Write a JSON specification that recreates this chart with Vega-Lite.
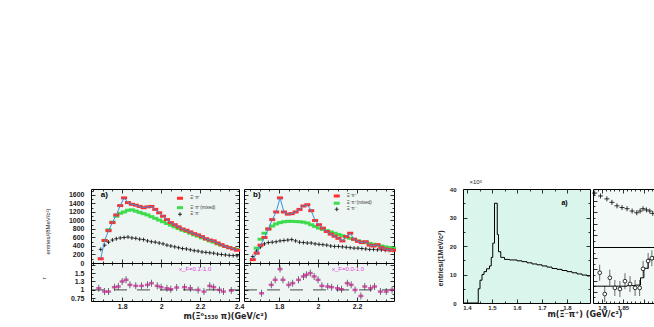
{
  "$schema": "https://vega.github.io/schema/vega-lite/v6.json",
  "autosize": {"type": "none"},
  "padding": {"left": 91, "top": 189, "right": 563, "bottom": 138},
  "background": "white",
  "config": {
    "font": "Liberation Sans",
    "view": {"stroke": "black", "strokeWidth": 1},
    "axis": {"grid": false, "domain": false, "tickColor": "black", "tickSize": -2, "tickWidth": 0.8, "labelPadding": 11, "labelFlush": false, "labelOverlap": false, "labelFont": "Liberation Sans", "labelFontSize": 7, "labelFontWeight": "bold", "labelColor": "#222", "titleFont": "Liberation Sans", "titleFontWeight": "normal", "titleColor": "#222", "titleFontSize": 6, "titleLimit": 300}
  },
  "datasets": {
    "aTop": [
      {"s":"r","x":1.69,"y":100},{"s":"r","x":1.71,"y":530},{"s":"r","x":1.73,"y":760},{"s":"r","x":1.75,"y":950},{"s":"r","x":1.77,"y":1130},{"s":"r","x":1.79,"y":1350},{"s":"r","x":1.81,"y":1530},{"s":"r","x":1.83,"y":1420},{"s":"r","x":1.85,"y":1380},{"s":"r","x":1.87,"y":1360},{"s":"r","x":1.89,"y":1330},{"s":"r","x":1.91,"y":1300},{"s":"r","x":1.93,"y":1320},{"s":"r","x":1.95,"y":1330},{"s":"r","x":1.97,"y":1260},{"s":"r","x":1.99,"y":1180},{"s":"r","x":2.01,"y":1100},{"s":"r","x":2.03,"y":1020},{"s":"r","x":2.05,"y":950},{"s":"r","x":2.07,"y":900},{"s":"r","x":2.09,"y":850},{"s":"r","x":2.11,"y":800},{"s":"r","x":2.13,"y":770},{"s":"r","x":2.15,"y":730},{"s":"r","x":2.17,"y":690},{"s":"r","x":2.19,"y":660},{"s":"r","x":2.21,"y":620},{"s":"r","x":2.23,"y":570},{"s":"r","x":2.25,"y":540},{"s":"r","x":2.27,"y":520},{"s":"r","x":2.29,"y":470},{"s":"r","x":2.31,"y":430},{"s":"r","x":2.33,"y":390},{"s":"r","x":2.35,"y":360},{"s":"r","x":2.37,"y":330},{"s":"r","x":2.39,"y":300},
      {"s":"g","x":1.71,"y":530},{"s":"g","x":1.73,"y":780},{"s":"g","x":1.75,"y":960},{"s":"g","x":1.77,"y":1100},{"s":"g","x":1.79,"y":1170},{"s":"g","x":1.81,"y":1200},{"s":"g","x":1.83,"y":1240},{"s":"g","x":1.85,"y":1250},{"s":"g","x":1.87,"y":1220},{"s":"g","x":1.89,"y":1190},{"s":"g","x":1.91,"y":1160},{"s":"g","x":1.93,"y":1130},{"s":"g","x":1.95,"y":1090},{"s":"g","x":1.97,"y":1050},{"s":"g","x":1.99,"y":1010},{"s":"g","x":2.01,"y":970},{"s":"g","x":2.03,"y":930},{"s":"g","x":2.05,"y":890},{"s":"g","x":2.07,"y":850},{"s":"g","x":2.09,"y":810},{"s":"g","x":2.11,"y":770},{"s":"g","x":2.13,"y":740},{"s":"g","x":2.15,"y":700},{"s":"g","x":2.17,"y":660},{"s":"g","x":2.19,"y":630},{"s":"g","x":2.21,"y":590},{"s":"g","x":2.23,"y":560},{"s":"g","x":2.25,"y":520},{"s":"g","x":2.27,"y":490},{"s":"g","x":2.29,"y":450},{"s":"g","x":2.31,"y":420},{"s":"g","x":2.33,"y":390},{"s":"g","x":2.35,"y":360},{"s":"g","x":2.37,"y":340},{"s":"g","x":2.39,"y":320},
      {"s":"k","x":1.69,"y":320},{"s":"k","x":1.71,"y":420},{"s":"k","x":1.73,"y":490},{"s":"k","x":1.75,"y":540},{"s":"k","x":1.77,"y":570},{"s":"k","x":1.79,"y":590},{"s":"k","x":1.81,"y":600},{"s":"k","x":1.83,"y":610},{"s":"k","x":1.85,"y":590},{"s":"k","x":1.87,"y":580},{"s":"k","x":1.89,"y":560},{"s":"k","x":1.91,"y":550},{"s":"k","x":1.93,"y":520},{"s":"k","x":1.95,"y":500},{"s":"k","x":1.97,"y":490},{"s":"k","x":1.99,"y":470},{"s":"k","x":2.01,"y":450},{"s":"k","x":2.03,"y":420},{"s":"k","x":2.05,"y":400},{"s":"k","x":2.07,"y":380},{"s":"k","x":2.09,"y":360},{"s":"k","x":2.11,"y":340},{"s":"k","x":2.13,"y":330},{"s":"k","x":2.15,"y":310},{"s":"k","x":2.17,"y":290},{"s":"k","x":2.19,"y":280},{"s":"k","x":2.21,"y":260},{"s":"k","x":2.23,"y":250},{"s":"k","x":2.25,"y":240},{"s":"k","x":2.27,"y":230},{"s":"k","x":2.29,"y":210},{"s":"k","x":2.31,"y":200},{"s":"k","x":2.33,"y":190},{"s":"k","x":2.35,"y":180},{"s":"k","x":2.37,"y":175},{"s":"k","x":2.39,"y":170}
    ],
    "aRat": [
      {"x":1.68,"y":1.05},{"x":1.71,"y":0.95},{"x":1.73,"y":0.95},{"x":1.76,"y":1.08},{"x":1.78,"y":1.1},{"x":1.8,"y":1.25},{"x":1.82,"y":1.3},{"x":1.84,"y":1.15},{"x":1.87,"y":1.12},{"x":1.9,"y":1.12},{"x":1.93,"y":1.15},{"x":1.95,"y":1.2},{"x":1.98,"y":1.12},{"x":2.0,"y":1.08},{"x":2.03,"y":1.05},{"x":2.05,"y":1.02},{"x":2.08,"y":1.07},{"x":2.12,"y":1.08},{"x":2.15,"y":1.05},{"x":2.19,"y":1.0},{"x":2.22,"y":0.95},{"x":2.25,"y":1.12},{"x":2.27,"y":1.08},{"x":2.3,"y":1.0},{"x":2.32,"y":0.95},{"x":2.36,"y":0.98}
    ],
    "bTop": [
      {"s":"r","x":1.665,"y":80},{"s":"r","x":1.685,"y":230},{"s":"r","x":1.705,"y":420},{"s":"r","x":1.725,"y":600},{"s":"r","x":1.745,"y":800},{"s":"r","x":1.765,"y":1020},{"s":"r","x":1.785,"y":1200},{"s":"r","x":1.805,"y":1530},{"s":"r","x":1.825,"y":1200},{"s":"r","x":1.845,"y":1150},{"s":"r","x":1.865,"y":1160},{"s":"r","x":1.885,"y":1200},{"s":"r","x":1.905,"y":1260},{"s":"r","x":1.925,"y":1340},{"s":"r","x":1.945,"y":1370},{"s":"r","x":1.965,"y":1230},{"s":"r","x":1.985,"y":1000},{"s":"r","x":2.005,"y":900},{"s":"r","x":2.025,"y":820},{"s":"r","x":2.045,"y":740},{"s":"r","x":2.065,"y":680},{"s":"r","x":2.085,"y":630},{"s":"r","x":2.105,"y":580},{"s":"r","x":2.125,"y":520},{"s":"r","x":2.145,"y":620},{"s":"r","x":2.165,"y":700},{"s":"r","x":2.185,"y":560},{"s":"r","x":2.205,"y":510},{"s":"r","x":2.225,"y":480},{"s":"r","x":2.245,"y":500},{"s":"r","x":2.265,"y":420},{"s":"r","x":2.285,"y":400},{"s":"r","x":2.305,"y":430},{"s":"r","x":2.325,"y":360},{"s":"r","x":2.345,"y":330},{"s":"r","x":2.365,"y":310},{"s":"r","x":2.385,"y":300},
      {"s":"g","x":1.685,"y":350},{"s":"g","x":1.705,"y":560},{"s":"g","x":1.725,"y":700},{"s":"g","x":1.745,"y":800},{"s":"g","x":1.765,"y":870},{"s":"g","x":1.785,"y":920},{"s":"g","x":1.805,"y":950},{"s":"g","x":1.825,"y":970},{"s":"g","x":1.845,"y":980},{"s":"g","x":1.865,"y":980},{"s":"g","x":1.885,"y":975},{"s":"g","x":1.905,"y":970},{"s":"g","x":1.925,"y":960},{"s":"g","x":1.945,"y":940},{"s":"g","x":1.965,"y":900},{"s":"g","x":1.985,"y":860},{"s":"g","x":2.005,"y":820},{"s":"g","x":2.025,"y":790},{"s":"g","x":2.045,"y":760},{"s":"g","x":2.065,"y":730},{"s":"g","x":2.085,"y":700},{"s":"g","x":2.105,"y":670},{"s":"g","x":2.125,"y":640},{"s":"g","x":2.145,"y":610},{"s":"g","x":2.165,"y":580},{"s":"g","x":2.185,"y":550},{"s":"g","x":2.205,"y":520},{"s":"g","x":2.225,"y":500},{"s":"g","x":2.245,"y":480},{"s":"g","x":2.265,"y":460},{"s":"g","x":2.285,"y":440},{"s":"g","x":2.305,"y":420},{"s":"g","x":2.325,"y":400},{"s":"g","x":2.345,"y":380},{"s":"g","x":2.365,"y":360},{"s":"g","x":2.385,"y":350},
      {"s":"k","x":1.665,"y":150},{"s":"k","x":1.685,"y":280},{"s":"k","x":1.705,"y":380},{"s":"k","x":1.725,"y":450},{"s":"k","x":1.745,"y":480},{"s":"k","x":1.765,"y":490},{"s":"k","x":1.785,"y":500},{"s":"k","x":1.805,"y":520},{"s":"k","x":1.825,"y":530},{"s":"k","x":1.845,"y":540},{"s":"k","x":1.865,"y":550},{"s":"k","x":1.885,"y":520},{"s":"k","x":1.905,"y":490},{"s":"k","x":1.925,"y":480},{"s":"k","x":1.945,"y":470},{"s":"k","x":1.965,"y":470},{"s":"k","x":1.985,"y":450},{"s":"k","x":2.005,"y":440},{"s":"k","x":2.025,"y":430},{"s":"k","x":2.045,"y":420},{"s":"k","x":2.065,"y":400},{"s":"k","x":2.085,"y":390},{"s":"k","x":2.105,"y":390},{"s":"k","x":2.125,"y":380},{"s":"k","x":2.145,"y":370},{"s":"k","x":2.165,"y":360},{"s":"k","x":2.185,"y":350},{"s":"k","x":2.205,"y":350},{"s":"k","x":2.225,"y":340},{"s":"k","x":2.245,"y":330},{"s":"k","x":2.265,"y":320},{"s":"k","x":2.285,"y":320},{"s":"k","x":2.305,"y":310},{"s":"k","x":2.325,"y":310},{"s":"k","x":2.345,"y":300},{"s":"k","x":2.365,"y":300},{"s":"k","x":2.385,"y":300}
    ],
    "bRat": [
      {"x":1.71,"y":0.9},{"x":1.76,"y":1.15},{"x":1.78,"y":1.3},{"x":1.805,"y":1.62},{"x":1.82,"y":1.3},{"x":1.85,"y":1.15},{"x":1.87,"y":1.2},{"x":1.9,"y":1.3},{"x":1.925,"y":1.4},{"x":1.94,"y":1.45},{"x":1.96,"y":1.5},{"x":1.98,"y":1.4},{"x":2.0,"y":1.3},{"x":2.02,"y":1.12},{"x":2.05,"y":1.1},{"x":2.07,"y":1.08},{"x":2.1,"y":1.05},{"x":2.12,"y":1.02},{"x":2.15,"y":1.2},{"x":2.17,"y":1.15},{"x":2.19,"y":1.0},{"x":2.22,"y":0.82},{"x":2.24,"y":1.1},{"x":2.27,"y":1.05},{"x":2.29,"y":1.1},{"x":2.32,"y":0.95},{"x":2.35,"y":0.95},{"x":2.38,"y":1.0}
    ],
    "legA": [
      {"s":"r","x":2.097,"tx":2.15,"y":1522,"t":"Ξ⁻π⁺"},
      {"s":"g","x":2.097,"tx":2.15,"y":1301,"t":"Ξ⁻π⁺(mixed)"},
      {"s":"k","x":2.097,"tx":2.15,"y":1146,"t":"Ξ⁻π⁻"}
    ],
    "legB": [
      {"s":"r","x":2.096,"tx":2.147,"y":1576,"t":"Ξ⁻π⁺"},
      {"s":"g","x":2.096,"tx":2.147,"y":1405,"t":"Ξ⁻π⁺(mixed)"},
      {"s":"k","x":2.096,"tx":2.147,"y":1264,"t":"Ξ⁻π⁻"}
    ],
    "c": [
      {"x":1.384,"y":0},{"x":1.445,"y":5},{"x":1.452,"y":8},{"x":1.46,"y":10},{"x":1.468,"y":11},{"x":1.478,"y":12},{"x":1.49,"y":13},{"x":1.497,"y":16},{"x":1.503,"y":21},{"x":1.51,"y":35},{"x":1.521,"y":24},{"x":1.526,"y":18},{"x":1.535,"y":16},{"x":1.55,"y":15.3},{"x":1.57,"y":15.1},{"x":1.6,"y":14.8},{"x":1.62,"y":14.5},{"x":1.64,"y":14.1},{"x":1.66,"y":13.7},{"x":1.68,"y":13.4},{"x":1.7,"y":13.0},{"x":1.72,"y":12.6},{"x":1.74,"y":12.1},{"x":1.76,"y":11.8},{"x":1.78,"y":11.4},{"x":1.8,"y":11.0},{"x":1.82,"y":10.6},{"x":1.84,"y":10.2},{"x":1.86,"y":9.8},{"x":1.88,"y":9.5},{"x":1.892,"y":9.5}
    ],
    "dTop": [
      {"x":1.783,"y":93},{"x":1.797,"y":88},{"x":1.812,"y":83},{"x":1.824,"y":77},{"x":1.836,"y":71},{"x":1.848,"y":68},{"x":1.86,"y":66},{"x":1.872,"y":62},{"x":1.883,"y":59},{"x":1.891,"y":62},{"x":1.898,"y":66},{"x":1.906,"y":64},{"x":1.914,"y":62},{"x":1.921,"y":58}
    ],
    "dBot": [
      {"x":1.795,"y":54},{"x":1.807,"y":16},{"x":1.819,"y":45},{"x":1.831,"y":27},{"x":1.843,"y":25},{"x":1.855,"y":39},{"x":1.867,"y":34},{"x":1.879,"y":27},{"x":1.89,"y":27},{"x":1.898,"y":61},{"x":1.91,"y":75},{"x":1.919,"y":80}
    ],
    "dStep": [
      {"x":1.779,"y":30},{"x":1.79,"y":30},{"x":1.8,"y":30},{"x":1.82,"y":30},{"x":1.84,"y":30},{"x":1.86,"y":31},{"x":1.88,"y":32},{"x":1.892,"y":45},{"x":1.9,"y":62},{"x":1.91,"y":78},{"x":1.924,"y":84}
    ]
  },
  "hconcat": [
    {
      "hconcat": [
        {
          "vconcat": [
            {
              "width": 148, "height": 74,
              "view": {"fill": "#eef6f3", "stroke": "black"},
              "resolve": {"axis": {"x": "independent", "y": "independent"}},
              "layer": [
                {
                  "encoding": {
                    "x": {"field": "x", "type": "quantitative", "scale": {"domain": [1.64, 2.4], "nice": false, "zero": false}, "axis": {"values": [1.65, 1.7, 1.75, 1.8, 1.85, 1.9, 1.95, 2.0, 2.05, 2.1, 2.15, 2.2, 2.25, 2.3, 2.35], "labels": false, "title": null, "tickSize": {"condition": {"test": "abs(datum.value*5 - round(datum.value*5)) < 0.001", "value": -4}, "value": -2}}},
                    "y": {"field": "y", "type": "quantitative", "scale": {"domain": [0, 1740], "nice": false}, "axis": {"values": [0, 100, 200, 300, 400, 500, 600, 700, 800, 900, 1000, 1100, 1200, 1300, 1400, 1500, 1600, 1700], "format": "d", "labelExpr": "datum.value % 200 == 0 ? datum.label : ''", "tickSize": {"condition": {"test": "datum.value % 200 == 0", "value": -4}, "value": -2}, "title": "entries/(8MeV/c²)", "titleX": -44, "titleY": 42, "titleAlign": "center", "titleBaseline": "middle", "titleAngle": -90}}
                  },
                  "layer": [
                    {"data": {"name": "aTop"}, "transform": [{"filter": "datum.s == 'g'"}], "mark": {"type": "tick", "orient": "horizontal", "color": "#3ddc4f", "size": 6, "thickness": 3, "opacity": 1}},
                    {"data": {"name": "aTop"}, "transform": [{"filter": "datum.s == 'k'"}], "mark": {"type": "point", "shape": "M-1,0L1,0M0,-1L0,1", "filled": false, "stroke": "black", "strokeWidth": 0.8, "size": 16, "opacity": 1}},
                    {"data": {"name": "aTop"}, "transform": [{"filter": "datum.s == 'r'"}], "mark": {"type": "tick", "orient": "horizontal", "color": "#ff2d2d", "size": 6, "thickness": 3, "opacity": 1}},
                    {"data": {"name": "aTop"}, "transform": [{"filter": "datum.s == 'r'"}], "mark": {"type": "line", "color": "#3a8fdc", "strokeWidth": 1}},
                    {"data": {"name": "legA"}, "transform": [{"filter": "datum.s == 'r'"}], "mark": {"type": "tick", "orient": "horizontal", "color": "#ff2d2d", "size": 6, "thickness": 3, "opacity": 1}},
                    {"data": {"name": "legA"}, "transform": [{"filter": "datum.s == 'g'"}], "mark": {"type": "tick", "orient": "horizontal", "color": "#3ddc4f", "size": 6, "thickness": 3, "opacity": 1}},
                    {"data": {"name": "legA"}, "transform": [{"filter": "datum.s == 'k'"}], "mark": {"type": "point", "shape": "M-1,0L1,0M0,-1L0,1", "filled": false, "stroke": "black", "strokeWidth": 0.8, "size": 16, "opacity": 1}},
                    {"data": {"name": "legA"}, "mark": {"type": "text", "fontSize": 4.5, "align": "left", "baseline": "middle", "color": "#333"}, "encoding": {"x": {"field": "tx", "type": "quantitative"}, "text": {"field": "t"}}},
                    {"data": {"values": [{"x": 1.709, "y": 1600, "t": "a)"}]}, "mark": {"type": "text", "fontSize": 8, "fontWeight": "bold", "align": "center", "baseline": "middle", "color": "black"}, "encoding": {"text": {"field": "t"}}}
                  ]
                },
                {
                  "data": {"name": "aTop"}, "mark": {"type": "point", "opacity": 0},
                  "encoding": {
                    "x": {"field": "x", "type": "quantitative", "axis": {"orient": "top", "values": [1.65, 1.7, 1.75, 1.8, 1.85, 1.9, 1.95, 2.0, 2.05, 2.1, 2.15, 2.2, 2.25, 2.3, 2.35], "labels": false, "title": null, "tickSize": {"condition": {"test": "abs(datum.value*5 - round(datum.value*5)) < 0.001", "value": -4}, "value": -2}}},
                    "y": {"field": "y", "type": "quantitative", "axis": {"orient": "right", "values": [100, 200, 300, 400, 500, 600, 700, 800, 900, 1000, 1100, 1200, 1300, 1400, 1500, 1600, 1700], "labels": false, "title": null, "tickSize": {"condition": {"test": "datum.value % 200 == 0", "value": -4}, "value": -2}}}
                  }
                }
              ]
            },
            {
              "width": 148, "height": 38,
              "view": {"fill": "#eef6f3", "stroke": "black"},
              "resolve": {"axis": {"x": "independent", "y": "independent"}},
              "layer": [
                {
                  "encoding": {
                    "x": {"field": "x", "type": "quantitative", "scale": {"domain": [1.64, 2.4], "nice": false, "zero": false}, "axis": {"values": [1.65, 1.7, 1.75, 1.8, 1.85, 1.9, 1.95, 2.0, 2.05, 2.1, 2.15, 2.2, 2.25, 2.3, 2.35, 2.4], "format": ".1~f", "labelExpr": "abs(datum.value*5 - round(datum.value*5)) < 0.001 ? datum.label : ''", "tickSize": {"condition": {"test": "abs(datum.value*5 - round(datum.value*5)) < 0.001", "value": -4}, "value": -2}, "labelPadding": 5, "title": "m(Ξ⁰₁₅₃₀ π)(GeV/c²)", "titleFont": "DejaVu Sans", "titleFontWeight": "bold", "titleFontSize": 8, "titleX": 92, "titleY": 15, "titleAlign": "left", "titleBaseline": "middle"}},
                    "y": {"field": "y", "type": "quantitative", "scale": {"domain": [0.67, 1.8], "nice": false, "zero": false}, "axis": {"values": [0.75, 0.875, 1, 1.125, 1.25, 1.375, 1.5, 1.625, 1.75], "format": "~g", "labelExpr": "abs(datum.value*4 - round(datum.value*4)) < 0.001 && datum.value < 1.7 ? datum.label : ''", "tickSize": {"condition": {"test": "abs(datum.value*4 - round(datum.value*4)) < 0.001", "value": -4}, "value": -2}, "title": "r", "titleX": -48, "titleY": 15, "titleAlign": "center", "titleBaseline": "middle", "titleAngle": -90}}
                  },
                  "layer": [
                    {"data": {"values": [{"x": 1.64, "x2": 2.4, "y": 1}]}, "mark": {"type": "rule", "color": "black", "strokeWidth": 0.7, "strokeDash": [13, 10]}, "encoding": {"x2": {"field": "x2"}}},
                    {"data": {"name": "aRat"}, "mark": {"type": "tick", "orient": "vertical", "color": "black", "size": 7, "thickness": 0.8}},
                    {"data": {"name": "aRat"}, "mark": {"type": "tick", "orient": "horizontal", "color": "#c21f8e", "size": 5, "thickness": 2.5}},
                    {"data": {"values": [{"x": 2.175, "y": 1.62, "t": "x_F=0.1-1.0"}]}, "mark": {"type": "text", "fontSize": 6, "align": "center", "baseline": "middle", "color": "#e03ce0"}, "encoding": {"text": {"field": "t"}}}
                  ]
                },
                {
                  "data": {"name": "aRat"}, "mark": {"type": "point", "opacity": 0},
                  "encoding": {
                    "x": {"field": "x", "type": "quantitative", "axis": {"orient": "top", "values": [1.65, 1.7, 1.75, 1.8, 1.85, 1.9, 1.95, 2.0, 2.05, 2.1, 2.15, 2.2, 2.25, 2.3, 2.35], "labels": false, "title": null, "tickSize": {"condition": {"test": "abs(datum.value*5 - round(datum.value*5)) < 0.001", "value": -4}, "value": -2}}},
                    "y": {"field": "y", "type": "quantitative", "axis": {"orient": "right", "values": [0.75, 0.875, 1, 1.125, 1.25, 1.375, 1.5, 1.625, 1.75], "labels": false, "title": null, "tickSize": {"condition": {"test": "abs(datum.value*4 - round(datum.value*4)) < 0.001", "value": -4}, "value": -2}}}
                  }
                }
              ]
            }
          ],
          "spacing": 0, "bounds": "flush"
        },
        {
          "vconcat": [
            {
              "width": 150, "height": 74,
              "view": {"fill": "#eef6f3", "stroke": "black"},
              "resolve": {"axis": {"x": "independent", "y": "independent"}},
              "layer": [
                {
                  "encoding": {
                    "x": {"field": "x", "type": "quantitative", "scale": {"domain": [1.62, 2.39], "nice": false, "zero": false}, "axis": {"values": [1.65, 1.7, 1.75, 1.8, 1.85, 1.9, 1.95, 2.0, 2.05, 2.1, 2.15, 2.2, 2.25, 2.3, 2.35], "labels": false, "title": null, "tickSize": {"condition": {"test": "abs(datum.value*5 - round(datum.value*5)) < 0.001", "value": -4}, "value": -2}}},
                    "y": {"field": "y", "type": "quantitative", "scale": {"domain": [0, 1740], "nice": false}, "axis": {"values": [100, 200, 300, 400, 500, 600, 700, 800, 900, 1000, 1100, 1200, 1300, 1400, 1500, 1600, 1700], "labels": false, "title": null, "tickSize": {"condition": {"test": "datum.value % 200 == 0", "value": -4}, "value": -2}}}
                  },
                  "layer": [
                    {"data": {"name": "bTop"}, "transform": [{"filter": "datum.s == 'g'"}], "mark": {"type": "tick", "orient": "horizontal", "color": "#3ddc4f", "size": 6, "thickness": 3, "opacity": 1}},
                    {"data": {"name": "bTop"}, "transform": [{"filter": "datum.s == 'k'"}], "mark": {"type": "point", "shape": "M-1,0L1,0M0,-1L0,1", "filled": false, "stroke": "black", "strokeWidth": 0.8, "size": 16, "opacity": 1}},
                    {"data": {"name": "bTop"}, "transform": [{"filter": "datum.s == 'r'"}], "mark": {"type": "tick", "orient": "horizontal", "color": "#ff2d2d", "size": 6, "thickness": 3, "opacity": 1}},
                    {"data": {"name": "bTop"}, "transform": [{"filter": "datum.s == 'r'"}], "mark": {"type": "line", "color": "#3a8fdc", "strokeWidth": 1}},
                    {"data": {"name": "legB"}, "transform": [{"filter": "datum.s == 'r'"}], "mark": {"type": "tick", "orient": "horizontal", "color": "#ff2d2d", "size": 6, "thickness": 3, "opacity": 1}},
                    {"data": {"name": "legB"}, "transform": [{"filter": "datum.s == 'g'"}], "mark": {"type": "tick", "orient": "horizontal", "color": "#3ddc4f", "size": 6, "thickness": 3, "opacity": 1}},
                    {"data": {"name": "legB"}, "transform": [{"filter": "datum.s == 'k'"}], "mark": {"type": "point", "shape": "M-1,0L1,0M0,-1L0,1", "filled": false, "stroke": "black", "strokeWidth": 0.8, "size": 16, "opacity": 1}},
                    {"data": {"name": "legB"}, "mark": {"type": "text", "fontSize": 4.5, "align": "left", "baseline": "middle", "color": "#333"}, "encoding": {"x": {"field": "tx", "type": "quantitative"}, "text": {"field": "t"}}},
                    {"data": {"values": [{"x": 1.686, "y": 1600, "t": "b)"}]}, "mark": {"type": "text", "fontSize": 8, "fontWeight": "bold", "align": "center", "baseline": "middle", "color": "black"}, "encoding": {"text": {"field": "t"}}}
                  ]
                },
                {
                  "data": {"name": "bTop"}, "mark": {"type": "point", "opacity": 0},
                  "encoding": {
                    "x": {"field": "x", "type": "quantitative", "axis": {"orient": "top", "values": [1.65, 1.7, 1.75, 1.8, 1.85, 1.9, 1.95, 2.0, 2.05, 2.1, 2.15, 2.2, 2.25, 2.3, 2.35], "labels": false, "title": null, "tickSize": {"condition": {"test": "abs(datum.value*5 - round(datum.value*5)) < 0.001", "value": -4}, "value": -2}}},
                    "y": {"field": "y", "type": "quantitative", "axis": {"orient": "right", "values": [100, 200, 300, 400, 500, 600, 700, 800, 900, 1000, 1100, 1200, 1300, 1400, 1500, 1600, 1700], "labels": false, "title": null, "tickSize": {"condition": {"test": "datum.value % 200 == 0", "value": -4}, "value": -2}}}
                  }
                }
              ]
            },
            {
              "width": 150, "height": 38,
              "view": {"fill": "#eef6f3", "stroke": "black"},
              "resolve": {"axis": {"x": "independent", "y": "independent"}},
              "layer": [
                {
                  "encoding": {
                    "x": {"field": "x", "type": "quantitative", "scale": {"domain": [1.62, 2.39], "nice": false, "zero": false}, "axis": {"values": [1.65, 1.7, 1.75, 1.8, 1.85, 1.9, 1.95, 2.0, 2.05, 2.1, 2.15, 2.2, 2.25, 2.3, 2.35], "format": ".1~f", "labelExpr": "abs(datum.value*5 - round(datum.value*5)) < 0.001 ? datum.label : ''", "tickSize": {"condition": {"test": "abs(datum.value*5 - round(datum.value*5)) < 0.001", "value": -4}, "value": -2}, "labelPadding": 5, "title": null}},
                    "y": {"field": "y", "type": "quantitative", "scale": {"domain": [0.67, 1.8], "nice": false, "zero": false}, "axis": {"values": [0.75, 0.875, 1, 1.125, 1.25, 1.375, 1.5, 1.625, 1.75], "labels": false, "title": null, "tickSize": {"condition": {"test": "abs(datum.value*4 - round(datum.value*4)) < 0.001", "value": -4}, "value": -2}}}
                  },
                  "layer": [
                    {"data": {"values": [{"x": 1.62, "x2": 2.39, "y": 1}]}, "mark": {"type": "rule", "color": "black", "strokeWidth": 0.7, "strokeDash": [13, 10]}, "encoding": {"x2": {"field": "x2"}}},
                    {"data": {"name": "bRat"}, "mark": {"type": "tick", "orient": "vertical", "color": "black", "size": 7, "thickness": 0.8}},
                    {"data": {"name": "bRat"}, "mark": {"type": "tick", "orient": "horizontal", "color": "#c21f8e", "size": 5, "thickness": 2.5}},
                    {"data": {"values": [{"x": 2.154, "y": 1.62, "t": "x_F=0.0-1.0"}]}, "mark": {"type": "text", "fontSize": 6, "align": "center", "baseline": "middle", "color": "#e03ce0"}, "encoding": {"text": {"field": "t"}}}
                  ]
                },
                {
                  "data": {"name": "bRat"}, "mark": {"type": "point", "opacity": 0},
                  "encoding": {
                    "x": {"field": "x", "type": "quantitative", "axis": {"orient": "top", "values": [1.65, 1.7, 1.75, 1.8, 1.85, 1.9, 1.95, 2.0, 2.05, 2.1, 2.15, 2.2, 2.25, 2.3, 2.35], "labels": false, "title": null, "tickSize": {"condition": {"test": "abs(datum.value*5 - round(datum.value*5)) < 0.001", "value": -4}, "value": -2}}},
                    "y": {"field": "y", "type": "quantitative", "axis": {"orient": "right", "values": [0.75, 0.875, 1, 1.125, 1.25, 1.375, 1.5, 1.625, 1.75], "labels": false, "title": null, "tickSize": {"condition": {"test": "abs(datum.value*4 - round(datum.value*4)) < 0.001", "value": -4}, "value": -2}}}
                  }
                }
              ]
            }
          ],
          "spacing": 0, "bounds": "flush"
        }
      ],
      "spacing": 153, "bounds": "flush"
    },
    {
      "hconcat": [
        {
          "width": 127, "height": 114,
          "view": {"fill": "#daf5ec", "stroke": "black"},
          "resolve": {"axis": {"x": "independent", "y": "independent"}},
          "layer": [
            {
              "encoding": {
                "x": {"field": "x", "type": "quantitative", "scale": {"domain": [1.384, 1.892], "nice": false, "zero": false}, "axis": {"values": [1.4, 1.45, 1.5, 1.55, 1.6, 1.65, 1.7, 1.75, 1.8, 1.85], "format": ".1f", "labelExpr": "abs(datum.value*10 - round(datum.value*10)) < 0.001 ? datum.label : ''", "tickSize": {"condition": {"test": "abs(datum.value*10 - round(datum.value*10)) < 0.001", "value": -4}, "value": -2}, "labelFontSize": 6, "labelPadding": 5, "title": "m(Ξ⁻π⁺) (GeV/c²)", "titleFont": "DejaVu Sans", "titleFontWeight": "bold", "titleFontSize": 8, "titleX": 84, "titleY": 11, "titleAlign": "left", "titleBaseline": "middle"}},
                "y": {"field": "y", "type": "quantitative", "scale": {"domain": [0, 40], "nice": false}, "axis": {"values": [0, 5, 10, 15, 20, 25, 30, 35, 40], "format": "d", "labelExpr": "datum.value % 10 == 0 ? datum.label : ''", "tickSize": {"condition": {"test": "datum.value % 10 == 0", "value": -4}, "value": -2}, "labelFontSize": 6, "title": "entries/(1MeV/c²)", "titleFontWeight": "bold", "titleFontSize": 7, "titleX": -23, "titleY": 69, "titleAlign": "center", "titleBaseline": "middle", "titleAngle": -90}}
              },
              "layer": [
                {"data": {"name": "c"}, "mark": {"type": "line", "interpolate": "step-after", "color": "black", "strokeWidth": 1}},
                {"data": {"values": [{"x": 1.41, "y": 42.3, "t": "×10³"}]}, "mark": {"type": "text", "fontSize": 6, "align": "left", "baseline": "middle", "color": "#222", "clip": false}, "encoding": {"text": {"field": "t"}}},
                {"data": {"values": [{"x": 1.79, "y": 35, "t": "a)"}]}, "mark": {"type": "text", "fontSize": 7, "fontWeight": "bold", "align": "center", "baseline": "middle", "color": "black"}, "encoding": {"text": {"field": "t"}}}
              ]
            },
            {
              "data": {"name": "c"}, "mark": {"type": "point", "opacity": 0},
              "encoding": {
                "x": {"field": "x", "type": "quantitative", "axis": {"orient": "top", "values": [1.4, 1.45, 1.5, 1.55, 1.6, 1.65, 1.7, 1.75, 1.8, 1.85], "labels": false, "title": null, "tickSize": {"condition": {"test": "abs(datum.value*10 - round(datum.value*10)) < 0.001", "value": -4}, "value": -2}}},
                "y": {"field": "y", "type": "quantitative", "axis": {"orient": "right", "values": [5, 10, 15, 20, 25, 30, 35], "labels": false, "title": null, "tickSize": {"condition": {"test": "datum.value % 10 == 0", "value": -4}, "value": -2}}}
              }
            }
          ]
        },
        {
          "vconcat": [
            {
              "width": 61, "height": 58,
              "view": {"fill": "#f2f9f7", "stroke": "black"},
              "data": {"name": "dTop"},
              "mark": {"type": "point", "shape": "M-1,0L1,0M0,-1L0,1", "filled": false, "stroke": "black", "strokeWidth": 0.8, "size": 25, "opacity": 1},
              "encoding": {
                "x": {"field": "x", "type": "quantitative", "scale": {"domain": [1.779, 1.924], "nice": false, "zero": false}, "axis": {"orient": "top", "values": [1.79, 1.8, 1.81, 1.82, 1.83, 1.84, 1.85, 1.86, 1.87, 1.88, 1.89, 1.9, 1.91, 1.92], "labels": false, "title": null, "tickSize": {"condition": {"test": "abs(datum.value*20 - round(datum.value*20)) < 0.001", "value": -4}, "value": -2}}},
                "y": {"field": "y", "type": "quantitative", "scale": {"domain": [0, 100], "nice": false}, "axis": {"values": [10, 20, 30, 40, 50, 60, 70, 80, 90], "labels": false, "title": null, "tickSize": {"condition": {"test": "datum.value % 20 == 0", "value": -4}, "value": -2}}}
              }
            },
            {
              "width": 61, "height": 56,
              "view": {"fill": "#f2f9f7", "stroke": "black"},
              "encoding": {
                "x": {"field": "x", "type": "quantitative", "scale": {"domain": [1.779, 1.924], "nice": false, "zero": false}, "axis": {"values": [1.79, 1.8, 1.81, 1.82, 1.83, 1.84, 1.85, 1.86, 1.87, 1.88, 1.89, 1.9, 1.91, 1.92], "format": "~g", "labelExpr": "abs(datum.value*20 - round(datum.value*20)) < 0.001 && datum.value < 1.88 ? datum.label : ''", "tickSize": {"condition": {"test": "abs(datum.value*20 - round(datum.value*20)) < 0.001", "value": -4}, "value": -2}, "labelFontSize": 6, "labelPadding": 5, "title": null}},
                "y": {"field": "y", "type": "quantitative", "scale": {"domain": [0, 100], "nice": false}, "axis": {"values": [10, 20, 30, 40, 50, 60, 70, 80, 90], "labels": false, "title": null, "tickSize": {"condition": {"test": "datum.value % 20 == 0", "value": -4}, "value": -2}}}
              },
              "layer": [
                {"data": {"name": "dStep"}, "mark": {"type": "line", "interpolate": "step-after", "color": "black", "strokeWidth": 1}},
                {"data": {"name": "dBot"}, "mark": {"type": "tick", "orient": "vertical", "color": "black", "size": 16, "thickness": 0.8}},
                {"data": {"name": "dBot"}, "mark": {"type": "point", "shape": "circle", "filled": true, "fill": "white", "stroke": "black", "strokeWidth": 0.8, "size": 14, "opacity": 1}}
              ]
            }
          ],
          "spacing": 0, "bounds": "flush"
        }
      ],
      "spacing": 3, "bounds": "flush"
    }
  ],
  "spacing": 372, "bounds": "flush"
}
